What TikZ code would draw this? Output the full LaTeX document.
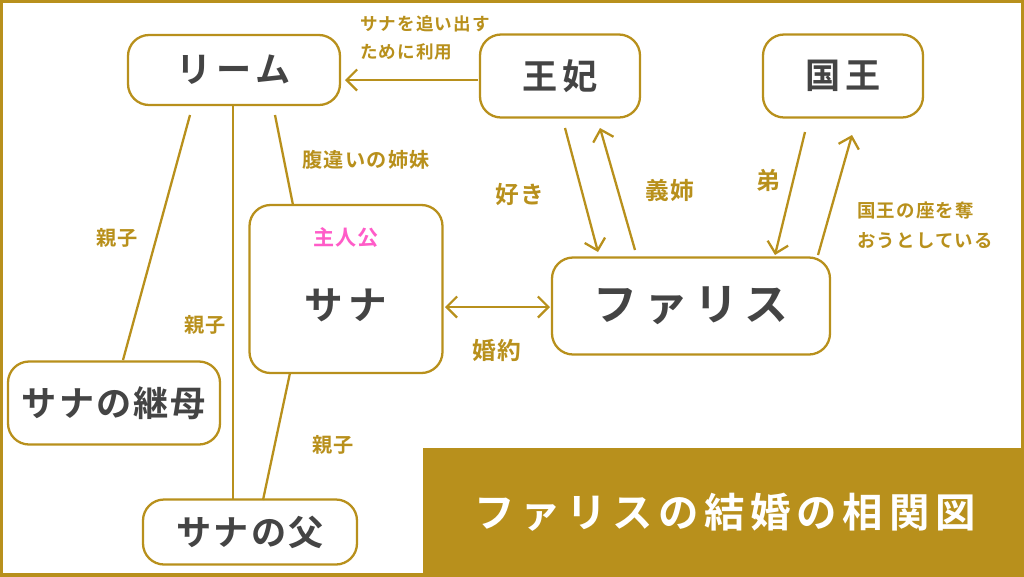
\documentclass[tikz,border=0pt]{standalone}
\usetikzlibrary{arrows.meta}
\usepackage{fontspec}
\newfontfamily\jp{Noto Sans CJK JP Bold}
\newfontfamily\jpw[LetterSpace=14]{Noto Sans CJK JP Bold}
\newfontfamily\jpl[LetterSpace=6]{Noto Sans CJK JP Bold}
\definecolor{gold}{HTML}{B8901C}
\definecolor{ink}{HTML}{444444}
\definecolor{pinkc}{HTML}{FF5CC8}
\begin{document}
\begin{tikzpicture}[x=0.02cm,y=-0.02cm,
 box/.style={draw=gold,line width=1.3pt,rounded corners=12pt,fill=white,text=ink,font=\jpw\fontsize{20}{22}\selectfont},
 lbl/.style={text=gold,font=\jpl\fontsize{11.5}{16}\selectfont,align=left},
 ln/.style={draw=gold,line width=1.3pt}]
\useasboundingbox (0,0) rectangle (1024,576);
\draw[gold,line width=2pt] (1,1) rectangle (1023,575);
\node[box,minimum width=212*0.02cm,minimum height=70*0.02cm] (rim) at (234,70) {リーム};
\node[box,minimum width=160*0.02cm,minimum height=83*0.02cm] (ohi) at (560,76) {王妃};
\node[box,minimum width=160*0.02cm,minimum height=83*0.02cm] (oku) at (843,76) {国王};
\node[box,minimum width=193*0.02cm,minimum height=168*0.02cm] (sana) at (346,289) {};
\node[text=pinkc,font=\jpl\fontsize{12}{13}\selectfont] (shu) at (346,238) {主人公};
\node[text=ink,font=\jpw\fontsize{22}{24}\selectfont] (sanat) at (346,305) {サナ};
\node[box,minimum width=278*0.02cm,minimum height=97*0.02cm,font=\jpw\fontsize{25}{26}\selectfont] (far) at (691,306) {ファリス};
\node[box,minimum width=212*0.02cm,minimum height=83*0.02cm,font=\jpl\fontsize{20}{22}\selectfont] (mama) at (114,403) {サナの継母};
\node[box,minimum width=214*0.02cm,minimum height=65*0.02cm,font=\jpl\fontsize{20}{22}\selectfont] (chichi) at (250,532) {サナの父};
\fill[gold] (423,448) rectangle (1024,576);
\node[text=white,font=\jpw\fontsize{23}{26}\selectfont] (title) at (725,512) {ファリスの結婚の相関図};
\draw[ln] (190,115) -- (123,360);
\draw[ln] (233,105) -- (233,500);
\draw[ln] (275,115) -- (293,205);
\draw[ln] (290,373) -- (263,500);
\draw[ln,-{Straight Barb[length=6pt]}] (478,80) -- (345,80);
\draw[ln,-{Straight Barb[length=6pt]}] (565,128) -- (598,252);
\draw[ln,-{Straight Barb[length=6pt]}] (635,250) -- (600,128);
\draw[ln,-{Straight Barb[length=6pt]}] (805,132) -- (775,255);
\draw[ln,-{Straight Barb[length=6pt]}] (818,255) -- (852,135);
\draw[ln,{Straight Barb[length=6pt]}-{Straight Barb[length=6pt]}] (445,307) -- (550,307);
\node[lbl] (l1) at (117,238) {親子};
\node[lbl] (l2) at (205,325) {親子};
\node[lbl] (l3) at (366,160) {腹違いの姉妹};
\node[lbl] (l4) at (333,445) {親子};
\node[lbl,font=\jpl\fontsize{10}{16}\selectfont] (l5) at (425,38) {サナを追い出す\\ために利用};
\node[lbl,font=\jpl\fontsize{13.5}{16}\selectfont] (l6) at (520,195) {好き};
\node[lbl,font=\jpl\fontsize{13.5}{16}\selectfont] (l7) at (670,190) {義姉};
\node[lbl,font=\jpl\fontsize{13.5}{16}\selectfont] (l8) at (768,180) {弟};
\node[lbl,font=\jpl\fontsize{10.5}{17}\selectfont] (l9) at (925,225) {国王の座を奪\\おうとしている};
\node[lbl,font=\jpl\fontsize{13.5}{16}\selectfont] (l10) at (497,350) {婚約};
\end{tikzpicture}
\end{document}
